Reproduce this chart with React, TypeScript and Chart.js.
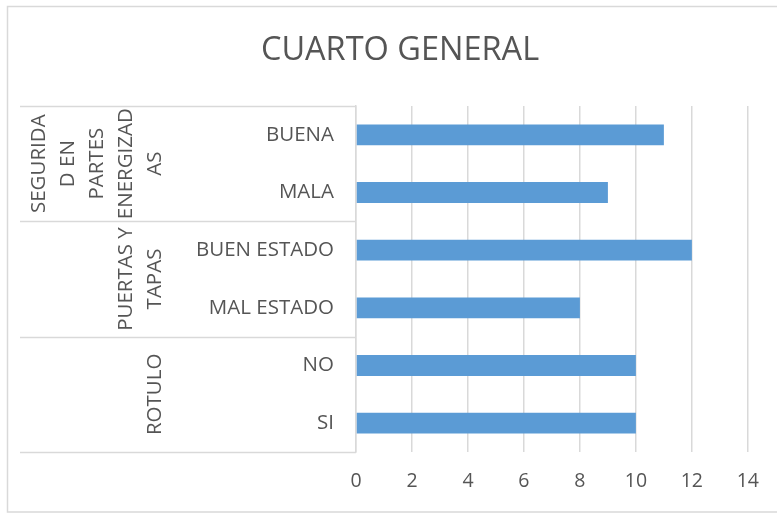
import React, { useEffect, useRef } from "react";
import { Chart, registerables } from "chart.js";

Chart.register(...registerables);

const title = "CUARTO GENERAL";
const categories = ["BUENA", "MALA", "BUEN ESTADO", "MAL ESTADO", "NO", "SI"];
const values = [11, 9, 12, 8, 10, 10];
const groupLabels = [
  ["SEGURIDA", "D EN", "PARTES", "ENERGIZAD", "AS"],
  ["PUERTAS Y", "TAPAS"],
  ["ROTULO"],
];
const groupSizes = [2, 2, 2];
const xMin = 0;
const xMax = 14;
const xStep = 2;

const FONT = "'Open Sans', sans-serif";
const TEXT = "#555555";
const LINE = "#D9D9D9";
const BAR = "#5B9BD5";

const framePlugin = {
  id: "frame",
  beforeDraw(chart: any) {
    const ctx = chart.ctx;
    ctx.save();
    ctx.fillStyle = "#ffffff";
    ctx.fillRect(0, 0, chart.width, chart.height);
    ctx.strokeStyle = LINE;
    ctx.lineWidth = 1.5;
    ctx.strokeRect(7.5, 6.5, chart.width + 10, 505.5);
    ctx.restore();
  },
  afterDraw(chart: any) {
    const ctx = chart.ctx;
    const y = chart.scales.y;
    const area = chart.chartArea;
    const leftX = 20;
    ctx.save();
    // title
    ctx.fillStyle = TEXT;
    ctx.font = `32.5px ${FONT}`;
    ctx.textAlign = "center";
    ctx.textBaseline = "middle";
    ctx.fillText(title, 400, 51);
    ctx.strokeStyle = LINE;
    ctx.lineWidth = 1.5;
    // separators
    let idx = 0;
    const bounds: number[] = [-0.5];
    groupSizes.forEach((s) => {
      idx += s;
      bounds.push(idx - 0.5);
    });
    bounds.forEach((b) => {
      const py = Math.round(y.getPixelForValue(b)) + 0.5;
      ctx.beginPath();
      ctx.moveTo(leftX, py);
      ctx.lineTo(area.left, py);
      ctx.stroke();
    });
    // group labels
    ctx.fillStyle = TEXT;
    ctx.font = `20.5px ${FONT}`;
    ctx.textAlign = "center";
    ctx.textBaseline = "middle";
    const lastX = 155;
    const lineH = 29;
    let start = 0;
    groupLabels.forEach((lines, g) => {
      const top = y.getPixelForValue(start - 0.5);
      const bot = y.getPixelForValue(start + groupSizes[g] - 0.5);
      const cy = (top + bot) / 2;
      lines.forEach((ln, i) => {
        const cx = lastX - (lines.length - 1 - i) * lineH;
        ctx.save();
        ctx.translate(cx, cy);
        ctx.rotate(-Math.PI / 2);
        ctx.fillText(ln, 0, 0);
        ctx.restore();
      });
      start += groupSizes[g];
    });
    ctx.restore();
  },
};

export default function App() {
  const ref = useRef<HTMLCanvasElement>(null);
  useEffect(() => {
    if (!ref.current) return;
    const chart = new Chart(ref.current, {
      type: "bar",
      data: {
        labels: categories,
        datasets: [
          {
            data: values,
            backgroundColor: BAR,
            barPercentage: 0.36,
            categoryPercentage: 1,
          },
        ],
      },
      options: {
        indexAxis: "y",
        responsive: false,
        animation: false,
        layout: { padding: { left: 7, right: 27, top: 106, bottom: 0 } },
        plugins: {
          legend: { display: false },
          tooltip: { enabled: false },
          title: { display: false },
        },
        scales: {
          x: {
            min: xMin,
            max: xMax,
            ticks: {
              stepSize: xStep,
              color: TEXT,
              font: { family: FONT, size: 19.5 },
              padding: 18,
            },
            grid: { color: LINE, lineWidth: 1.5, drawTicks: false },
            border: { display: false },
            afterFit(scale: any) {
              scale.height = 62;
            },
          },
          y: {
            ticks: {
              color: TEXT,
              font: { family: FONT, size: 20.5 },
              padding: 22,
            },
            grid: { display: false, drawTicks: false },
            border: { display: true, color: LINE, width: 1.5 },
            afterFit(scale: any) {
              scale.width = 349;
            },
          },
        },
      },
      plugins: [framePlugin],
    });
    return () => chart.destroy();
  }, []);
  return (
    <div style={{ position: "fixed", left: 0, top: 0, width: 777, height: 514 }}>
      <canvas ref={ref} width={777} height={514} style={{ display: "block" }} />
    </div>
  );
}
